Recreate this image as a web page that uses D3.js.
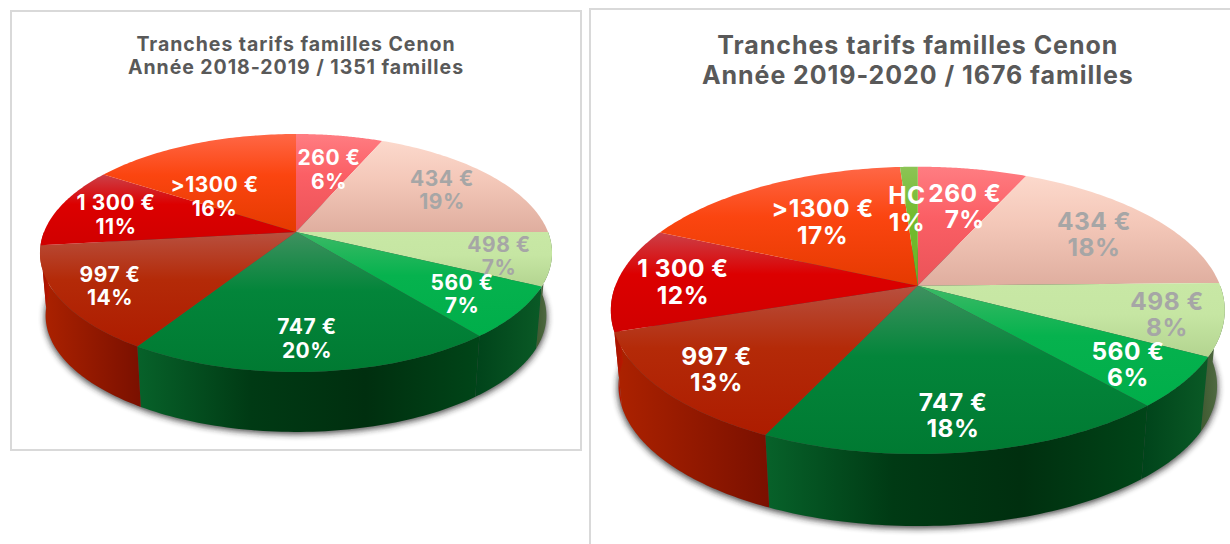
<!DOCTYPE html>
<html><head><meta charset="utf-8">
<script src="https://cdnjs.cloudflare.com/ajax/libs/d3/7.8.5/d3.min.js"></script>
<style>html,body{margin:0;padding:0;background:#fff;overflow:hidden}svg{display:block}text{font-family:Inter,sans-serif;font-weight:700}</style>
</head><body><svg id="c" width="1230" height="544"></svg>
<script>
// ---------- data ----------
const tranchesA = ["260 €","434 €","498 €","560 €","747 €","997 €","1 300 €",">1300 €"];
const valuesA   = [6.5,18.5,7.2,7.0,19.8,14.2,11.0,15.8];
const percentsA = ["6%","19%","7%","7%","20%","14%","11%","16%"];
const tranchesB = ["260 €","434 €","498 €","560 €","747 €","997 €","1 300 €",">1300 €","HC"];
const valuesB   = [6.8,17.9,8.1,5.7,18.5,12.9,11.8,17.2,1.1];
const percentsB = ["7%","18%","8%","6%","18%","13%","12%","17%","1%"];
const titleA = ["Tranches tarifs familles Cenon","Année 2018-2019 / 1351 familles"];
const titleB = ["Tranches tarifs familles Cenon","Année 2019-2020 / 1676 familles"];

// ---------- styling per tranche ----------
const topStops = {
 "260 €":["#ff7d82","#fb5f65","#ea5358"],
 "434 €":["#fcd9cc","#f4c8b9","#dfae9f"],
 "498 €":["#c8e8a5","#c6e6a3","#b3d490"],
 "560 €":["#3cba66","#06b24e","#00ae4a"],
 "747 €":["#3f9160","#03853a","#007a32"],
 "997 €":["#b8503f","#b42a08","#ad1c00"],
 "1 300 €":["#cc4048","#dc0000","#d00000"],
 ">1300 €":["#ff6746","#fb4510","#e53a00"],
 "HC":["#8cc455","#72bb2e","#6ab426"]};
const wallStops = {
 "434 €":["#b09080","#806050"],
 "498 €":["#3f5a30","#56704a"],
 "560 €":["#00431a","#0a5a26"],
 "747 €":["#07622a","#003a14","#002f0f","#004518"],
 "997 €":["#ad2200","#7a1000"],
 "1 300 €":["#a01000","#b81800"],
};
const darkLabels = new Set(["434 €","498 €"]);
const svg = d3.select("#c");
const defs = svg.append("defs");
defs.append("filter").attr("id","blur").attr("x","-10%").attr("y","-10%").attr("width","120%").attr("height","130%")
  .append("feGaussianBlur").attr("stdDeviation",3);

let gid = 0;
function gradient(cols, horizontal){
  const id = "g"+(gid++);
  const g = defs.append("linearGradient").attr("id",id)
    .attr("x1",0).attr("y1",0).attr("x2",horizontal?1:0).attr("y2",horizontal?0:1);
  const offs = cols.length===3 && !horizontal ? [0,0.42,1] : cols.map((_,i)=>i/(cols.length-1));
  cols.forEach((c,i)=>g.append("stop").attr("offset",offs[i]).attr("stop-color",c));
  return `url(#${id})`;
}

function drawPie(o){
  const {names,values,percents,title,geom,labelPos,fontSize,titleSize,titleY} = o;
  const {cx,cy,a,b,c,depth,shrink} = geom;
  // projective map of the unit disc: theta clockwise from 12 o'clock, r in [0,1]
  const proj = (th,r=1,s=1,dy=0)=>{
    const u=r*Math.sin(th), v=-r*Math.cos(th), w=1-c*v;
    return [cx+s*a*u/w, cy+dy+s*b*v/w];
  };
  const line = d3.line();
  const arcs = d3.pie().sort(null).startAngle(0).endAngle(2*Math.PI)(values);
  const rim = (t0,t1,s=1,dy=0)=>d3.range(0,61).map(i=>proj(t0+(t1-t0)*i/60,1,s,dy));
  const g = svg.append("g");

  // shadow
  g.append("path").attr("d",line(rim(0,2*Math.PI,shrink*1.004,depth+2))+"Z")
    .attr("fill","#222").attr("opacity",.8).attr("filter","url(#blur)");

  // walls
  const lo=Math.PI*0.5, hi=Math.PI*1.5;
  arcs.forEach((d,i)=>{
    const t0=Math.max(d.startAngle,lo), t1=Math.min(d.endAngle,hi);
    if(t1<=t0) return;
    const pts=rim(t0,t1).concat(rim(t0,t1,shrink,depth).reverse());
    g.append("path").attr("d",line(pts)+"Z")
      .attr("fill",gradient(wallStops[names[i]]||["#222","#222"],true));
  });
  // top faces
  arcs.forEach((d,i)=>{
    const pts=[[cx,cy]].concat(rim(d.startAngle,d.endAngle));
    g.append("path").attr("d",line(pts)+"Z").attr("fill",gradient(topStops[names[i]]));
  });
  // labels
  names.forEach((n,i)=>{
    const [x,y1,y2]=labelPos[i];
    const col=darkLabels.has(n)?"#a6a6a6":"#ffffff";
    [[n,y1],[percents[i],y2]].forEach(([t,y])=>
      g.append("text").attr("x",x).attr("y",y).attr("dy",".36em").attr("text-anchor","middle")
       .attr("font-size",fontSize).attr("font-weight",600).attr("letter-spacing",.5).attr("fill",col).text(t));
  });
  // title
  title.forEach((t,i)=>g.append("text").attr("x",cx).attr("y",titleY[i]).attr("dy",".36em")
    .attr("text-anchor","middle").attr("font-size",titleSize).attr("letter-spacing",.95).attr("fill","#595959").text(t));
}

// frames
svg.append("rect").attr("x",11).attr("y",11).attr("width",570).attr("height",439)
  .attr("fill","none").attr("stroke","#d9d9d9").attr("stroke-width",2);
svg.append("path").attr("d","M590,544V9H1230").attr("fill","none").attr("stroke","#d9d9d9").attr("stroke-width",2);

drawPie({names:tranchesA,values:valuesA,percents:percentsA,title:titleA,
  geom:{cx:296,cy:232,a:252,b:115.3,c:.1765,depth:63,shrink:.978},
  labelPos:[[329,157,181],[442,178,201],[499,244,267],[462,282,305],[307,326,350],[110,274,297],[116,202,226],[214.5,184,208]],
  fontSize:21,titleSize:19.5,titleY:[44,67]});
drawPie({names:tranchesB,values:valuesB,percents:percentsB,title:titleB,
  geom:{cx:917.8,cy:285.7,a:302.4,b:139.4,c:.1716,depth:76.3,shrink:.975},
  labelPos:[[964.7,193,219],[1094,221,247],[1167,301,327],[1128,351,377],[953,402,428],[716.5,356,382],[683,268,295],[822.6,208,235],[907,195,222]],
  fontSize:24.5,titleSize:25,titleY:[45,75]});
</script></body></html>
